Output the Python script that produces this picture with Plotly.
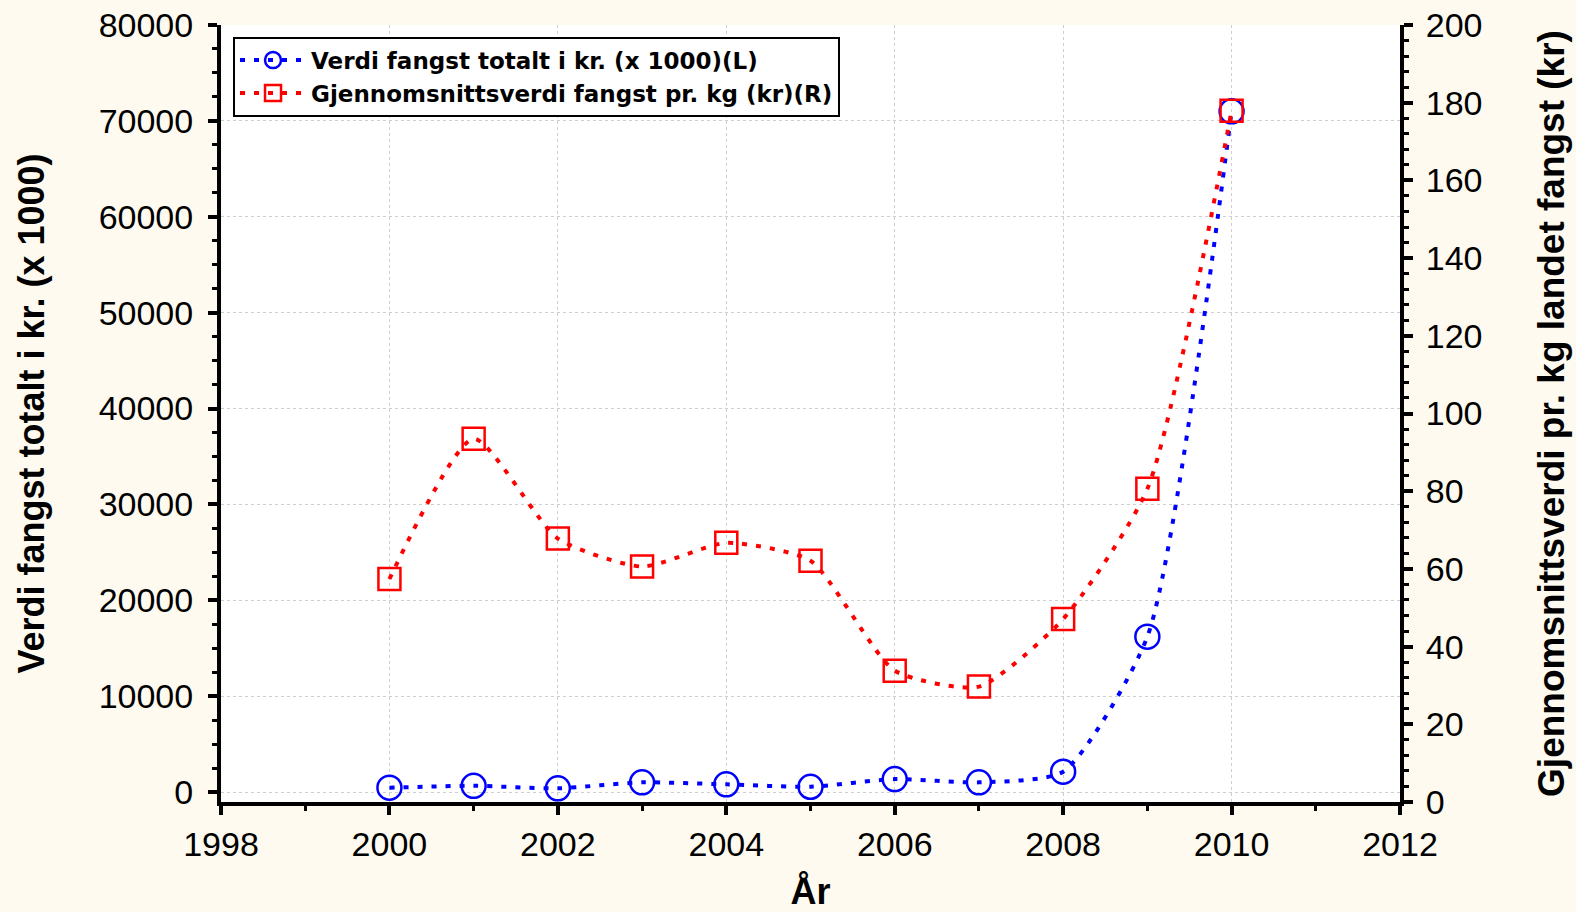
import plotly.graph_objects as go

years = [2000, 2001, 2002, 2003, 2004, 2005, 2006, 2007, 2008, 2009, 2010]
verdi_total = [450, 650, 390, 1010, 800, 550, 1350, 1010, 2120, 16200, 71000]
snitt_pr_kg = [57.4, 93.5, 67.8, 60.6, 66.7, 62.1, 33.8, 29.7, 47.1, 80.6, 177.9]

name_l = "Verdi fangst totalt i kr. (x 1000)(L)"
name_r = "Gjennomsnittsverdi fangst pr. kg (kr)(R)"
title_l = "Verdi fangst totalt i kr. (x 1000)"
title_r = "Gjennomsnittsverdi pr. kg landet fangst (kr)"
title_x = "År"

FONT = "Liberation Sans, Arial, Helvetica, sans-serif"
BG = "#FEFAEF"

fig = go.Figure()
fig.add_trace(go.Scatter(
    x=years, y=verdi_total, name=name_l, mode="lines+markers",
    line=dict(color="#0000FF", width=4, dash="5px,9px", shape="spline", smoothing=0.6),
    marker=dict(symbol="circle-open", size=24, color="#0000FF", line=dict(width=2.5, color="#0000FF")),
    yaxis="y"))
fig.add_trace(go.Scatter(
    x=years, y=snitt_pr_kg, name=name_r, mode="lines+markers",
    line=dict(color="#FF0000", width=4, dash="5px,9px", shape="spline", smoothing=0.6),
    marker=dict(symbol="square-open", size=22, color="#FF0000", line=dict(width=2.5, color="#FF0000")),
    yaxis="y2"))

axis_common = dict(
    showline=True, linecolor="black", linewidth=4, mirror=False,
    ticks="outside", tickcolor="black", tickwidth=4, ticklen=9,
    tickfont=dict(family=FONT, size=34, color="black"),
    zeroline=False, tickformat="d", automargin=False,
)

TITLE_FONT = dict(family=FONT, size=36, color="black", weight="bold")

fig.update_layout(
    width=1576, height=912,
    paper_bgcolor=BG, plot_bgcolor="white",
    margin=dict(l=221, r=176, t=25, b=110),
    showlegend=True,
    legend=dict(
        x=0.0102, y=0.985, xanchor="left", yanchor="top",
        bgcolor="white", bordercolor="black", borderwidth=2,
        font=dict(family="DejaVu Sans, sans-serif", size=23, color="black", weight="bold"),
        itemwidth=66, tracegroupgap=0,
    ),
    xaxis=dict(
        range=[1998, 2012], dtick=2, tick0=1998,
        showgrid=True, gridcolor="#CFCFCF", griddash="dot", gridwidth=1,
        minor=dict(dtick=1, ticks="outside", ticklen=5, tickwidth=3, tickcolor="black", showgrid=False),
        title=dict(text=title_x, font=TITLE_FONT, standoff=27),
        **axis_common,
    ),
    yaxis=dict(
        range=[-1040, 80000], dtick=10000, tick0=0,
        showgrid=True, gridcolor="#CFCFCF", griddash="dot", gridwidth=1,
        minor=dict(dtick=2500, tick0=0, ticks="outside", ticklen=5, tickwidth=3, tickcolor="black", showgrid=False),
        title=dict(text=title_l, font=TITLE_FONT, standoff=44),
        ticklabelstandoff=8,
        **axis_common,
    ),
    yaxis2=dict(
        range=[0, 200], dtick=20, tick0=0, overlaying="y", side="right",
        showgrid=False,
        minor=dict(dtick=4, tick0=0, ticks="outside", ticklen=5, tickwidth=3, tickcolor="black", showgrid=False),
        title=dict(text=title_r, font=dict(family=FONT, size=37, color="black", weight="bold"), standoff=58),
        ticklabelstandoff=6,
        **axis_common,
    ),
)

fig.write_html(
    "out.html",
    config={"displayModeBar": False},
    post_script="document.body.style.margin='0';document.body.style.background='%s';" % BG,
)
